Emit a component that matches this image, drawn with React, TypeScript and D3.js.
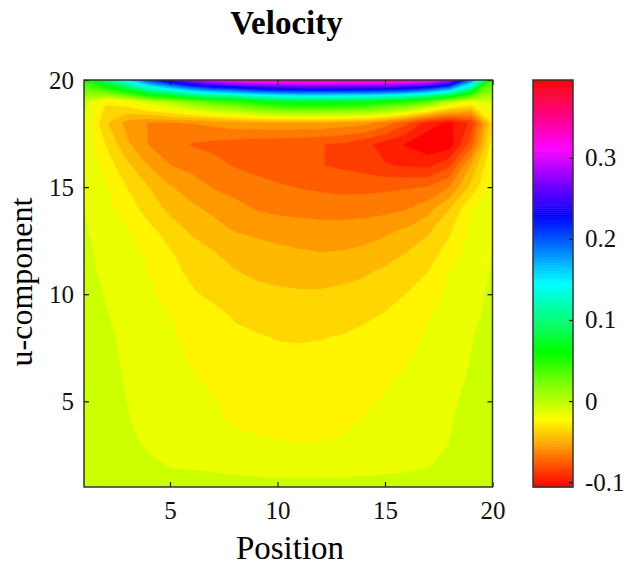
import React, { useEffect, useRef } from 'react';
import * as d3 from 'd3';

// grid positions, rows go from y = 1 (bottom) to y = 20 (top)
const positions = d3.range(1, 21);
const uRows = [
  [0, 0, -0.0005, -0.001, -0.0015, -0.002, -0.0025, -0.0027, -0.003, -0.003, -0.003, -0.003, -0.003, -0.0028, -0.0025, -0.002, -0.0015, -0.001, -0.0005, 0],
  [0, -0.0005, -0.0015, -0.003, -0.0062, -0.0065, -0.007, -0.008, -0.0085, -0.009, -0.009, -0.009, -0.0088, -0.0085, -0.008, -0.0072, -0.006, -0.003, -0.0015, -0.0005],
  [0, -0.001, -0.0025, -0.0075, -0.01, -0.0115, -0.0125, -0.0135, -0.0145, -0.015, -0.0152, -0.015, -0.0145, -0.0135, -0.012, -0.0105, -0.009, -0.0055, -0.003, -0.001],
  [0, -0.001, -0.0045, -0.01, -0.012, -0.0135, -0.0148, -0.0162, -0.0175, -0.0185, -0.019, -0.0188, -0.017, -0.015, -0.013, -0.011, -0.0095, -0.006, -0.0035, -0.001],
  [0, -0.002, -0.0058, -0.0085, -0.0115, -0.0135, -0.0152, -0.0175, -0.019, -0.02, -0.0205, -0.0205, -0.0195, -0.0175, -0.0145, -0.012, -0.01, -0.0067, -0.004, -0.0015],
  [-0.001, -0.003, -0.0063, -0.009, -0.0115, -0.0145, -0.0175, -0.0195, -0.021, -0.022, -0.0222, -0.022, -0.0215, -0.02, -0.017, -0.014, -0.011, -0.0073, -0.005, -0.002],
  [-0.001, -0.0035, -0.007, -0.01, -0.013, -0.0165, -0.0195, -0.0215, -0.023, -0.024, -0.0242, -0.024, -0.0232, -0.022, -0.02, -0.0165, -0.013, -0.0085, -0.0055, -0.002],
  [-0.001, -0.004, -0.0075, -0.011, -0.0145, -0.0175, -0.021, -0.0235, -0.025, -0.0261, -0.0263, -0.026, -0.0253, -0.024, -0.022, -0.0185, -0.0145, -0.0105, -0.006, -0.003],
  [-0.002, -0.005, -0.0085, -0.012, -0.0157, -0.019, -0.022, -0.0267, -0.028, -0.0292, -0.0305, -0.03, -0.029, -0.027, -0.025, -0.021, -0.0165, -0.012, -0.0075, -0.0035],
  [-0.002, -0.006, -0.0095, -0.014, -0.019, -0.024, -0.0285, -0.031, -0.0325, -0.0338, -0.0345, -0.0345, -0.0335, -0.032, -0.029, -0.0255, -0.019, -0.014, -0.0085, -0.004],
  [-0.003, -0.0075, -0.011, -0.016, -0.022, -0.028, -0.0325, -0.035, -0.0375, -0.039, -0.0398, -0.0398, -0.0385, -0.037, -0.0335, -0.03, -0.0255, -0.015, -0.0105, -0.005],
  [-0.003, -0.009, -0.0125, -0.0175, -0.025, -0.031, -0.0355, -0.039, -0.0415, -0.0435, -0.045, -0.046, -0.0455, -0.044, -0.041, -0.036, -0.031, -0.022, -0.011, -0.0055],
  [-0.0045, -0.011, -0.0155, -0.023, -0.0305, -0.0375, -0.042, -0.0465, -0.0485, -0.05, -0.051, -0.0518, -0.0515, -0.0505, -0.048, -0.0445, -0.0375, -0.0275, -0.014, -0.007],
  [-0.0055, -0.0125, -0.0205, -0.03, -0.0385, -0.044, -0.048, -0.0525, -0.0565, -0.0585, -0.0595, -0.0605, -0.061, -0.0605, -0.059, -0.0565, -0.05, -0.036, -0.017, -0.0095],
  [-0.0065, -0.014, -0.026, -0.0355, -0.045, -0.0505, -0.0565, -0.0595, -0.0625, -0.0645, -0.0663, -0.0675, -0.0685, -0.0685, -0.068, -0.067, -0.0655, -0.056, -0.033, -0.012],
  [-0.007, -0.02, -0.033, -0.046, -0.0555, -0.059, -0.0625, -0.0665, -0.0685, -0.071, -0.072, -0.0755, -0.0775, -0.08, -0.085, -0.087, -0.088, -0.078, -0.044, -0.016],
  [-0.008, -0.026, -0.044, -0.056, -0.061, -0.0665, -0.0685, -0.0705, -0.072, -0.073, -0.074, -0.0755, -0.0775, -0.083, -0.09, -0.097, -0.104, -0.102, -0.071, -0.019],
  [-0.009, -0.034, -0.049, -0.0565, -0.056, -0.0555, -0.053, -0.05, -0.049, -0.048, -0.048, -0.048, -0.05, -0.052, -0.06, -0.074, -0.091, -0.098, -0.084, -0.026],
  [0, -0.024, -0.018, -0.001, 0.009, 0.025, 0.039, 0.047, 0.064, 0.074, 0.079, 0.079, 0.077, 0.074, 0.064, 0.054, 0.034, 0.006, -0.014, -0.003],
  [0.054, 0.104, 0.154, 0.214, 0.254, 0.294, 0.319, 0.334, 0.344, 0.349, 0.354, 0.354, 0.354, 0.354, 0.354, 0.349, 0.334, 0.299, 0.194, 0.044],
];

const uMin = -0.106;
const uMax = 0.396;
const levelCount = 50;
const axisTicks = [5, 10, 15, 20];
const barTicks = [-0.1, 0, 0.1, 0.2, 0.3];

const font = '"Liberation Serif", "Times New Roman", serif';

const App = () => {
  const svgRef = useRef<SVGSVGElement>(null);

  useEffect(() => {
    const svg = d3.select(svgRef.current);
    svg.selectAll('*').remove();

    const plot = { left: 84, right: 492.5, top: 80, bottom: 487 };
    const bar = { left: 533, right: 573 };

    const x = d3.scaleLinear().domain([1, 20]).range([plot.left, plot.right]);
    const y = d3.scaleLinear().domain([1, 20]).range([plot.bottom, plot.top]);
    const barY = d3.scaleLinear().domain([uMin, uMax]).range([plot.bottom, plot.top]);

    // hsv colormap over the colorbar range
    const color = (u: number) => d3.hsl(((u - uMin) / (uMax - uMin)) * 360, 1, 0.5).formatRgb();

    svg
      .append('defs')
      .append('clipPath')
      .attr('id', 'plot-clip')
      .append('rect')
      .attr('x', plot.left)
      .attr('y', plot.top)
      .attr('width', plot.right - plot.left)
      .attr('height', plot.bottom - plot.top);

    // d3 puts grid value i at coordinate i + 0.5
    const path = d3.geoPath(
      d3.geoTransform({
        point(px, py) {
          this.stream.point(x(px + 0.5), y(py + 0.5));
        },
      })
    );

    const levels = d3.range(levelCount).map((k) => uMin + (k * (uMax - uMin)) / levelCount);
    const values = uRows.flat();
    const contours = d3.contours().size([positions.length, uRows.length]).thresholds(levels.slice(1))(values);

    const field = svg.append('g').attr('clip-path', 'url(#plot-clip)');
    field
      .append('rect')
      .attr('x', plot.left)
      .attr('y', plot.top)
      .attr('width', plot.right - plot.left)
      .attr('height', plot.bottom - plot.top)
      .attr('fill', color(levels[0]));
    field
      .selectAll('path')
      .data(contours)
      .enter()
      .append('path')
      .attr('d', (d) => path(d))
      .attr('fill', (d) => color(d.value))
      .attr('stroke', (d) => color(d.value))
      .attr('stroke-width', 0.3);

    const axisColor = '#333';
    const styleAxis = (g) => {
      g.select('.domain').remove();
      g.selectAll('line').attr('stroke', '#111').attr('stroke-width', 1.2);
      g.selectAll('text').attr('font-family', font).attr('font-size', 25).attr('fill', '#111');
    };

    svg
      .append('g')
      .attr('transform', `translate(0,${plot.bottom})`)
      .call(d3.axisBottom(x).tickValues(axisTicks).tickSize(-5).tickPadding(14).tickFormat(d3.format('d')))
      .call(styleAxis);
    svg
      .append('g')
      .attr('transform', `translate(${plot.left},0)`)
      .call(d3.axisLeft(y).tickValues(axisTicks).tickSize(-5).tickPadding(10).tickFormat(d3.format('d')))
      .call(styleAxis);
    svg
      .append('g')
      .attr('transform', `translate(0,${plot.top})`)
      .call(d3.axisTop(x).tickValues(axisTicks).tickSize(-5).tickFormat(() => ''))
      .call(styleAxis);
    svg
      .append('g')
      .attr('transform', `translate(${plot.right},0)`)
      .call(d3.axisRight(y).tickValues(axisTicks).tickSize(-5).tickFormat(() => ''))
      .call(styleAxis);

    svg
      .append('rect')
      .attr('x', plot.left)
      .attr('y', plot.top)
      .attr('width', plot.right - plot.left)
      .attr('height', plot.bottom - plot.top)
      .attr('fill', 'none')
      .attr('stroke', axisColor)
      .attr('stroke-width', 1.5);

    // colorbar
    const barSteps = d3.range(0, 200);
    const stepU = (uMax - uMin) / barSteps.length;
    svg
      .append('g')
      .selectAll('rect')
      .data(barSteps)
      .enter()
      .append('rect')
      .attr('x', bar.left)
      .attr('width', bar.right - bar.left)
      .attr('y', (d) => barY(uMin + (d + 1) * stepU))
      .attr('height', (d) => barY(uMin + d * stepU) - barY(uMin + (d + 1) * stepU) + 0.5)
      .attr('fill', (d) => color(uMin + (d + 0.5) * stepU));

    svg
      .append('g')
      .attr('transform', `translate(${bar.right},0)`)
      .call(d3.axisRight(barY).tickValues(barTicks).tickSize(-4).tickPadding(12).tickFormat((d) => String(d)))
      .call(styleAxis);

    svg
      .append('rect')
      .attr('x', bar.left)
      .attr('y', plot.top)
      .attr('width', bar.right - bar.left)
      .attr('height', plot.bottom - plot.top)
      .attr('fill', 'none')
      .attr('stroke', axisColor)
      .attr('stroke-width', 1.5);

    // titles
    svg
      .append('text')
      .attr('x', 286.5)
      .attr('y', 34)
      .attr('text-anchor', 'middle')
      .attr('font-family', font)
      .attr('font-weight', 'bold')
      .attr('font-size', 33)
      .text('Velocity');
    svg
      .append('text')
      .attr('x', 290)
      .attr('y', 559)
      .attr('text-anchor', 'middle')
      .attr('font-family', font)
      .attr('font-size', 33)
      .text('Position');
    svg
      .append('text')
      .attr('transform', 'translate(32,282) rotate(-90)')
      .attr('text-anchor', 'middle')
      .attr('font-family', font)
      .attr('font-size', 32)
      .text('u-component');

    return () => {
      svg.selectAll('*').remove();
    };
  }, []);

  return <svg ref={svgRef} width={627} height={565} style={{ position: 'absolute', left: 0, top: 0, background: '#fff' }} />;
};

export default App;
